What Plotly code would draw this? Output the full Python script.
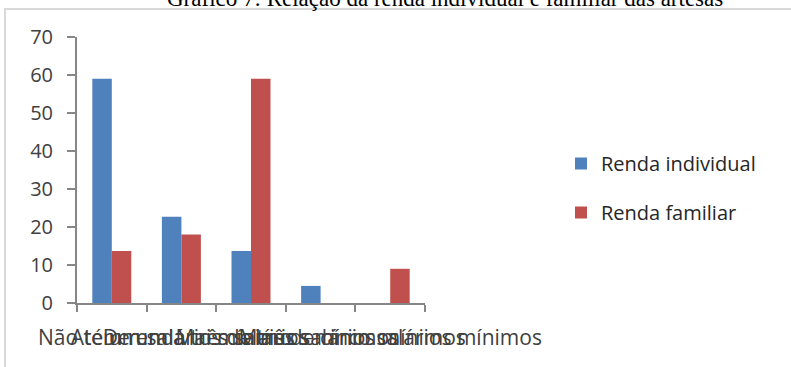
import plotly.graph_objects as go

categories = [
    "Não tem renda",
    "Até um salário mínimo",
    "De um a três salários mínimos",
    "Mais de três salários mínimos",
    "Mais de cinco salários mínimos",
]
renda_individual = [59, 22.7, 13.7, 4.5, 0]
renda_familiar = [13.7, 18, 59, 0, 9]
y_ticks = [0, 10, 20, 30, 40, 50, 60, 70]
title_text = "Gráfico 7: Relação da renda individual e familiar das artesãs"

W, H = 791, 367
L, R, T, B = 77, 425, 37, 303

def px(xp):
    return (xp - L) / (R - L)

def py(yp):
    return (B - yp) / (B - T)

FONT = "Open Sans"
TXT = "#404040"

fig = go.Figure()
fig.add_trace(go.Bar(x=categories, y=renda_individual, name="Renda individual",
                     marker=dict(color="#4f81bd", line=dict(width=0)), legendgroup="a"))
fig.add_trace(go.Bar(x=categories, y=renda_familiar, name="Renda familiar",
                     marker=dict(color="#c0504d", line=dict(width=0)), legendgroup="b"))

fig.update_layout(
    width=W, height=H,
    margin=dict(l=L, r=W - R, t=T, b=H - B, pad=0),
    paper_bgcolor="white", plot_bgcolor="white",
    barmode="group", bargap=0.44, bargroupgap=0,
    font=dict(family=FONT, size=20, color=TXT),
    showlegend=True,
    legend=dict(x=px(561), y=py(188), xanchor="left", yanchor="middle",
                font=dict(family=FONT, size=20, color="#262626"),
                traceorder="grouped", tracegroupgap=20,
                itemwidth=30, bgcolor="rgba(0,0,0,0)"),
    xaxis=dict(showgrid=False, showline=True, linecolor="#868686", linewidth=2,
               ticks="outside", tickson="boundaries", ticklen=7, tickwidth=2,
               tickcolor="#868686", tickangle=0, ticklabelstandoff=15,
               tickfont=dict(family=FONT, size=21, color=TXT)),
    yaxis=dict(range=[0, 70], tickvals=y_ticks, showgrid=False, zeroline=False,
               showline=True, linecolor="#868686", linewidth=2,
               ticks="outside", ticklen=8, tickwidth=2, tickcolor="#868686",
               ticklabelstandoff=10,
               tickfont=dict(family=FONT, size=20, color=TXT)),
    shapes=[dict(type="rect", xref="paper", yref="paper",
                 x0=px(5), x1=px(900), y0=py(500), y1=py(9),
                 line=dict(color="#d9d9d9", width=2), fillcolor="rgba(0,0,0,0)",
                 layer="below")],
    annotations=[dict(text=title_text, xref="paper", yref="paper",
                      x=px(445), y=py(-16), xanchor="center", yanchor="top",
                      showarrow=False,
                      font=dict(family="Liberation Serif", size=23, color="black"))],
)

fig.write_html("out.html")
